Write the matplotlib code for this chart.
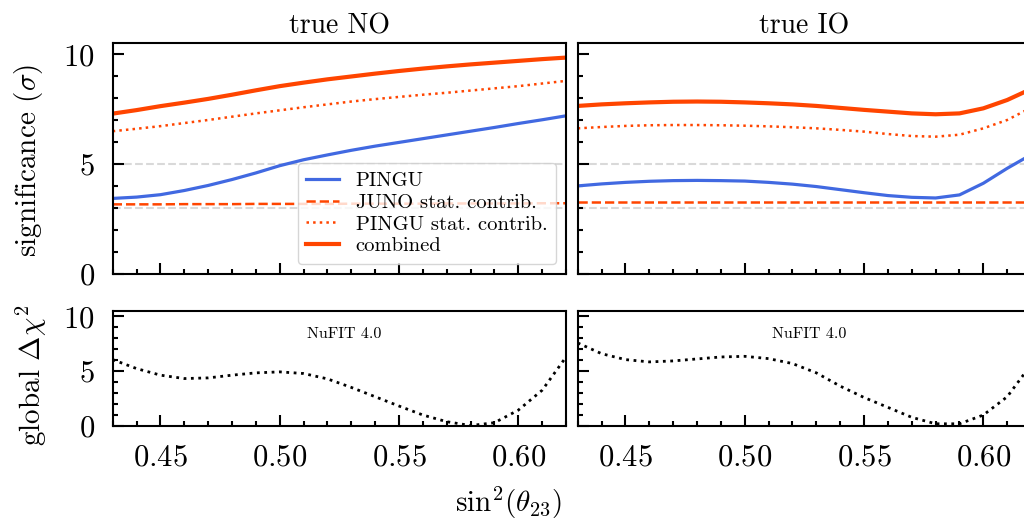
import matplotlib
matplotlib.use('Agg')
import matplotlib.pyplot as plt
from matplotlib.ticker import MultipleLocator

plt.rcParams['font.family'] = 'serif'
plt.rcParams['font.serif'] = ['cmr10']
plt.rcParams['mathtext.fontset'] = 'cm'
plt.rcParams['axes.formatter.use_mathtext'] = True
plt.rcParams['axes.unicode_minus'] = False

s2 = [0.43, 0.44, 0.45, 0.46, 0.47, 0.48, 0.49, 0.50, 0.51, 0.52,
      0.53, 0.54, 0.55, 0.56, 0.57, 0.58, 0.59, 0.60, 0.61, 0.62]

# true NO
no_pingu = [3.44, 3.50, 3.61, 3.80, 4.03, 4.30, 4.60, 4.93, 5.20, 5.42,
            5.63, 5.82, 5.99, 6.16, 6.33, 6.50, 6.67, 6.85, 7.02, 7.20]
no_juno = [3.17, 3.17, 3.17, 3.18, 3.18, 3.18, 3.19, 3.19, 3.19, 3.19,
           3.20, 3.20, 3.20, 3.20, 3.21, 3.21, 3.21, 3.21, 3.22, 3.22]
no_pingu_stat = [6.50, 6.61, 6.73, 6.87, 7.01, 7.16, 7.31, 7.45, 7.59, 7.72,
                 7.85, 7.96, 8.06, 8.16, 8.25, 8.35, 8.45, 8.55, 8.67, 8.79]
no_comb = [7.30, 7.46, 7.64, 7.80, 7.97, 8.16, 8.36, 8.55, 8.71, 8.86,
           8.99, 9.12, 9.24, 9.35, 9.45, 9.54, 9.62, 9.70, 9.78, 9.85]
no_chi2 = [6.06, 5.24, 4.64, 4.33, 4.39, 4.64, 4.85, 4.94, 4.79, 4.30,
           3.52, 2.67, 1.82, 1.00, 0.39, 0.04, 0.30, 1.45, 3.27, 6.30]

# true IO
io_pingu = [4.01, 4.10, 4.17, 4.22, 4.25, 4.26, 4.25, 4.23, 4.17, 4.09,
            3.98, 3.84, 3.70, 3.57, 3.49, 3.46, 3.60, 4.13, 4.81, 5.43]
io_juno = [3.27] * 20
io_pingu_stat = [6.63, 6.69, 6.74, 6.77, 6.78, 6.78, 6.77, 6.75, 6.72, 6.68,
                 6.63, 6.56, 6.48, 6.37, 6.28, 6.25, 6.34, 6.63, 7.01, 7.57]
io_comb = [7.65, 7.72, 7.77, 7.81, 7.84, 7.85, 7.84, 7.81, 7.77, 7.72,
           7.65, 7.56, 7.47, 7.39, 7.31, 7.27, 7.31, 7.54, 7.92, 8.42]
io_chi2 = [7.58, 6.60, 6.06, 5.85, 5.94, 6.12, 6.30, 6.36, 6.15, 5.70,
           4.85, 3.64, 2.60, 1.70, 0.79, 0.20, 0.20, 1.00, 2.67, 5.60]

titles = ['true NO', 'true IO']
xticks = [0.45, 0.50, 0.55, 0.60]

red = '#ff4500'
blue = '#4169e1'

fig = plt.figure(figsize=(10.24, 5.23), dpi=100)

lefts = [0.1101, 0.5642]
w = 0.4427
top_axes = [fig.add_axes([l, 0.4761, w, 0.4411]) for l in lefts]
bot_axes = [fig.add_axes([l, 0.1855, w, 0.2199]) for l in lefts]

series = [(no_pingu, no_juno, no_pingu_stat, no_comb, no_chi2),
          (io_pingu, io_juno, io_pingu_stat, io_comb, io_chi2)]

for i in range(2):
    ax = top_axes[i]
    pingu, juno, pstat, comb, chi2 = series[i]
    ax.axhline(5, color='#d9d9d9', ls='--', lw=1.5, zorder=0)
    ax.axhline(3, color='#d9d9d9', ls='--', lw=1.5, zorder=0)
    ax.plot(s2, pingu, color=blue, lw=2.3, label='PINGU')
    ax.plot(s2, juno, color=red, lw=1.8, ls='--', label='JUNO stat. contrib.')
    ax.plot(s2, pstat, color=red, lw=1.8, ls=':', label='PINGU stat. contrib.')
    ax.plot(s2, comb, color=red, lw=3.0, label='combined')
    ax.set_ylim(0, 10.5)
    ax.set_title(titles[i], fontsize=20, pad=7)
    if i == 0:
        ax.legend(loc='lower right', fontsize=14.8, labelspacing=0.17,
                  handlelength=1.6, handletextpad=0.8, borderpad=0.4)

    bx = bot_axes[i]
    bx.plot(s2, chi2, color='black', lw=2, ls=':')
    bx.set_ylim(0, 10.5)
    bx.text(0.51, 0.8, 'NuFIT 4.0', transform=bx.transAxes, ha='center',
            va='center', fontsize=11.5)

for ax in top_axes + bot_axes:
    ax.set_xlim(0.43, 0.62)
    ax.set_xticks(xticks)
    ax.xaxis.set_minor_locator(MultipleLocator(0.01))
    ax.set_yticks([0, 5, 10])
    ax.yaxis.set_minor_locator(MultipleLocator(1))
    ax.tick_params(which='both', direction='in', top=False, right=False,
                   labelsize=22, pad=13, width=1.5)
    ax.tick_params(which='major', length=8)
    ax.tick_params(which='minor', length=3.5)
    for sp in ax.spines.values():
        sp.set_linewidth(1.5)

for ax in top_axes:
    ax.tick_params(labelbottom=False)
for ax in [top_axes[1], bot_axes[1]]:
    ax.tick_params(labelleft=False)

fig.text(29 / 1024, 0.694, r'significance ($\sigma$)', rotation=90,
         ha='center', va='center', fontsize=21)
fig.text(31 / 1024, 0.283, r'global $\Delta\chi^2$', rotation=90,
         ha='center', va='center', fontsize=21)
fig.text(508 / 1024, 0.003, r'$\mathrm{sin}^2(\theta_{23})$', ha='center',
         va='bottom', fontsize=21)

fig.savefig('out.png', dpi=100)
